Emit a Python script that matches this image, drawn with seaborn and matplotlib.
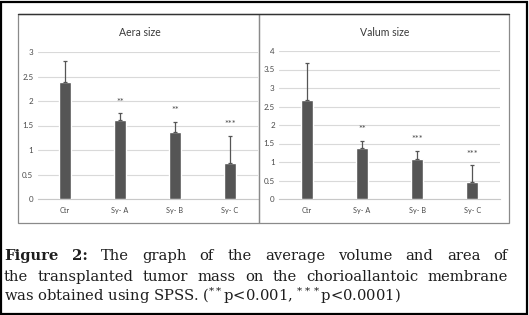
import matplotlib
matplotlib.use('Agg')
import matplotlib.pyplot as plt
import seaborn as sns
import pandas as pd
from matplotlib.patches import Rectangle
from matplotlib.lines import Line2D

# ---- data ----
categories = ["Ctr", "Sy- A", "Sy- B", "Sy- C"]
area_mean = [2.39, 1.61, 1.37, 0.73]
area_sd = [0.43, 0.14, 0.21, 0.56]
area_stars = ["", "**", "**", "***"]
volume_mean = [2.68, 1.37, 1.08, 0.46]
volume_sd = [1.00, 0.21, 0.23, 0.45]
volume_stars = ["", "**", "***", "***"]
area_ticks = [0, 0.5, 1, 1.5, 2, 2.5, 3]
area_ticklabels = ["0", "0.5", "1", "1.5", "2", "2.5", "3"]
volume_ticks = [0, 0.5, 1, 1.5, 2, 2.5, 3, 3.5, 4]
volume_ticklabels = ["0", "0.5", "1", "1.5", "2", "2.5", "3", "3.5", "4"]
titles = ["Aera size", "Valum size"]
caption_lines = [
    ["Figure", "2:", "The", "graph", "of", "the", "average", "volume", "and", "area", "of"],
    ["the", "transplanted", "tumor", "mass", "on", "the", "chorioallantoic", "membrane"],
]
caption_last = r"was obtained using SPSS. (${}^{**}$p<0.001, ${}^{***}$p<0.0001)"

W, H = 529, 315
BAR = "#555555"
TXT = "#4a4a4a"

sns.set_theme(style="white")
plt.rcParams["font.family"] = ["Lato", "DejaVu Sans"]
plt.rcParams["mathtext.fontset"] = "dejavuserif"

fig = plt.figure(figsize=(W / 100, H / 100), dpi=100)
fig.patch.set_facecolor("white")


def px(x0, y0, x1, y1):
    return [x0 / W, 1 - y1 / H, (x1 - x0) / W, (y1 - y0) / H]


def fx(x):
    return x / W


def fy(y):
    return 1 - y / H


# outer border and panel boxes
fig.add_artist(Rectangle((0.5 / W, 1 - 313.5 / H), 526 / W, 312 / H, transform=fig.transFigure,
                         fill=False, edgecolor="black", lw=1.6))
for (x0, x1) in [(18, 259), (259, 509)]:
    fig.add_artist(Rectangle((fx(x0), fy(223)), (x1 - x0) / W, (223 - 14) / H, transform=fig.transFigure,
                             fill=False, edgecolor="#8a8a8a", lw=0.9))
fig.add_artist(Line2D([fx(18), fx(509)], [fy(14), fy(14)], transform=fig.transFigure, color="#333333", lw=1.0))

ax1 = fig.add_axes(px(37.5, 52, 257.5, 199))
ax2 = fig.add_axes(px(279, 51, 500, 199))


def draw(ax, mean, sd, stars, ticks, ticklabels, title, title_x):
    df = pd.DataFrame({"cat": categories, "val": mean})
    sns.barplot(data=df, x="cat", y="val", ax=ax, color=BAR, width=0.22,
                saturation=1, errorbar=None, zorder=3)
    n = len(categories)
    ax.errorbar(list(range(n)), mean, yerr=[[0] * n, sd], fmt="none", ecolor=BAR,
                elinewidth=0.9, capsize=1.6, capthick=0.9, zorder=4)
    for i, s in enumerate(stars):
        if s:
            ax.annotate(s, (i, mean[i] + sd[i]), xytext=(0, 8), textcoords="offset points",
                        ha="center", va="center", fontsize=6.8, color=TXT)
    ax.set_xlim(-0.5, n - 0.5)
    ax.set_ylim(ticks[0], ticks[-1])
    ax.set_yticks(ticks)
    ax.set_yticklabels(ticklabels)
    ax.set_xlabel("")
    ax.set_ylabel("")
    ax.yaxis.grid(True, color="#d9d9d9", lw=0.8)
    ax.set_axisbelow(True)
    for sp in ["top", "right", "left"]:
        ax.spines[sp].set_visible(False)
    ax.spines["bottom"].set_color("#c8c8c8")
    ax.spines["bottom"].set_linewidth(0.8)
    ax.tick_params(axis="y", length=0, labelsize=5.8, colors=TXT, pad=3)
    ax.tick_params(axis="x", length=0, labelsize=5.2, colors=TXT, pad=6)
    ax.set_facecolor("none")
    fig.text(fx(title_x), fy(32), title, ha="center", va="center", fontsize=7.6, color="#3a3a3a")


draw(ax1, area_mean, area_sd, area_stars, area_ticks, area_ticklabels, titles[0], 140)
draw(ax2, volume_mean, volume_sd, volume_stars, volume_ticks, volume_ticklabels, titles[1], 385)

# caption, justified
renderer = fig.canvas.get_renderer()
cap_left, cap_right = 4, 508
baselines = [260, 281, 301]
cap_color = "#1e1e1e"
cap_size = 10.6
for li, words in enumerate(caption_lines):
    texts = []
    for wi, w in enumerate(words):
        bold = (li == 0 and wi < 2)
        t = fig.text(0, fy(baselines[li]), w, fontsize=cap_size, family="DejaVu Serif",
                     fontweight="bold" if bold else "normal", color=cap_color,
                     ha="left", va="baseline")
        texts.append(t)
    widths = [t.get_window_extent(renderer).width for t in texts]
    gap = (cap_right - cap_left - sum(widths)) / (len(words) - 1)
    x = cap_left
    for t, w in zip(texts, widths):
        t.set_x(fx(x))
        x += w + gap
fig.text(fx(cap_left), fy(baselines[2]), caption_last, fontsize=cap_size, family="DejaVu Serif",
         color=cap_color, ha="left", va="baseline")

fig.savefig("out.png", dpi=100)
